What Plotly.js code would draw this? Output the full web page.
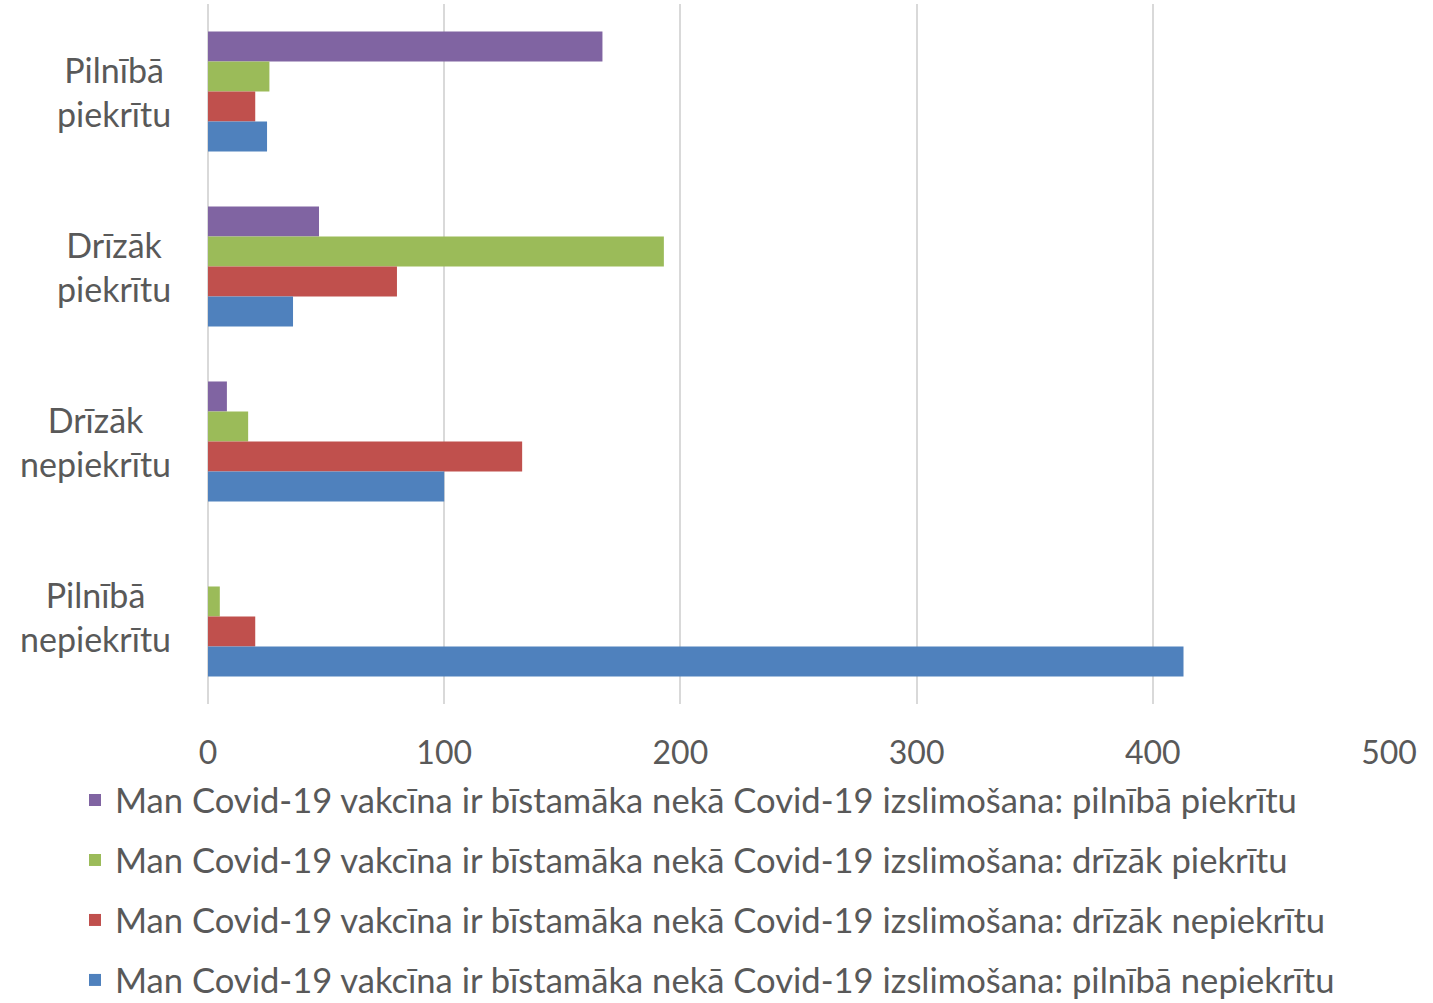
<!DOCTYPE html>
<html>
<head>
<meta charset="utf-8">
<script src="https://cdn.plot.ly/plotly-3.0.1.min.js"></script>
<style>html,body{margin:0;padding:0;background:#fff;}#chart{width:1433px;height:1003px;}</style>
</head>
<body>
<div id="chart"></div>
<script>
const categories = ["Pilnībā piekrītu", "Drīzāk piekrītu", "Drīzāk nepiekrītu", "Pilnībā nepiekrītu"];
const categoryLabels = ["Pilnībā<br>piekrītu", "Drīzāk<br>piekrītu", "Drīzāk<br>nepiekrītu", "Pilnībā<br>nepiekrītu"];
const seriesNames = [
  "Man Covid-19 vakcīna ir bīstamāka nekā Covid-19 izslimošana: pilnībā piekrītu",
  "Man Covid-19 vakcīna ir bīstamāka nekā Covid-19 izslimošana: drīzāk piekrītu",
  "Man Covid-19 vakcīna ir bīstamāka nekā Covid-19 izslimošana: drīzāk nepiekrītu",
  "Man Covid-19 vakcīna ir bīstamāka nekā Covid-19 izslimošana: pilnībā nepiekrītu"
];
const valsPilnibaPiekritu = [167, 47, 8, 0];
const valsDrizakPiekritu = [26, 193, 17, 5];
const valsDrizakNepiekritu = [20, 80, 133, 20];
const valsPilnibaNepiekritu = [25, 36, 100, 413];
const xTicks = [0, 100, 200, 300, 400, 500];
const colors = ["#8064A2", "#9BBB59", "#C0504D", "#4F81BD"];

const allVals = [valsPilnibaPiekritu, valsDrizakPiekritu, valsDrizakNepiekritu, valsPilnibaNepiekritu];
const FONT = "Lato, 'Open Sans', sans-serif";
const traces = allVals.map((v, i) => ({
  type: "bar",
  orientation: "h",
  name: seriesNames[i],
  x: v,
  y: categories,
  marker: {color: colors[i], line: {width: 0}},
  legendgroup: "g" + i,
  hoverinfo: "x+name"
}));

const annotations = categories.map((c, i) => ({
  xref: "paper", x: (173 - 208) / 1181, y: c, yref: "y",
  xanchor: "right", yanchor: "middle", align: "center",
  text: categoryLabels[i], showarrow: false,
  font: {family: FONT, size: 34, color: "#595959"}
}));

const layout = {
  width: 1433, height: 1003,
  margin: {l: 208, r: 44, t: 4, b: 299, autoexpand: false},
  paper_bgcolor: "#ffffff", plot_bgcolor: "#ffffff",
  barmode: "group", bargap: 0.314, bargroupgap: 0,
  showlegend: true,
  font: {family: FONT, color: "#595959", size: 32},
  xaxis: {
    range: [0, 500], tickvals: xTicks, ticktext: xTicks.map(String),
    showgrid: true, gridcolor: "#d9d9d9", gridwidth: 2,
    zeroline: true, zerolinecolor: "#d9d9d9", zerolinewidth: 2,
    showline: false, ticks: "", ticklabelstandoff: 27, tickangle: 0,
    automargin: false,
    tickfont: {family: FONT, size: 32, color: "#595959"},
    fixedrange: true
  },
  yaxis: {
    categoryorder: "array", categoryarray: categories,
    autorange: "reversed", showticklabels: false, showgrid: false,
    zeroline: false, showline: false, ticks: "", fixedrange: true, automargin: false
  },
  legend: {
    orientation: "v", traceorder: "grouped", tracegroupgap: 12,
    x: 75/1433, xref: "container", xanchor: "left",
    y: 1 - 771/1003, yref: "container", yanchor: "top",
    font: {family: FONT, size: 34.6, color: "#595959"},
    itemclick: false, itemdoubleclick: false
  },
  annotations: annotations
};

Plotly.newPlot("chart", traces, layout, {displayModeBar: false, staticPlot: true});
</script>
</body>
</html>
